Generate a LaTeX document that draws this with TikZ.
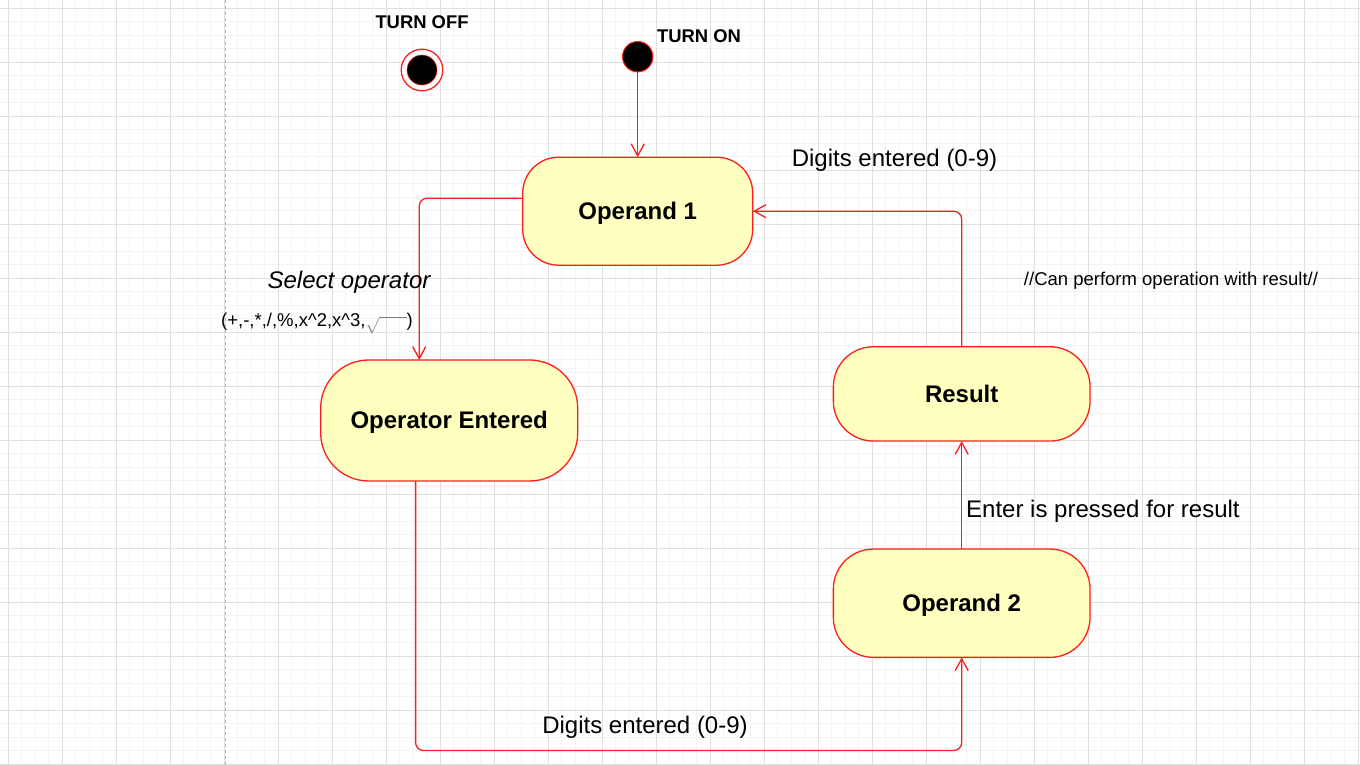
\documentclass[tikz,border=0pt]{standalone}
\usepackage{fontspec}
\setmainfont{Liberation Sans}
\usetikzlibrary{arrows.meta}
\definecolor{statered}{RGB}{255,30,30}
\definecolor{statefill}{RGB}{255,255,192}
\definecolor{minorg}{RGB}{244,244,244}
\definecolor{majorg}{RGB}{224,224,224}
\tikzset{
  minorgrid/.style={draw=minorg, line width=0.9pt},
  majorgrid/.style={draw=majorg, line width=0.9pt},
  statebox/.style={draw=statered, fill=statefill, line width=1.3pt, inner sep=0pt, outer sep=0pt,
     font=\fontsize{24pt}{28pt}\selectfont\bfseries, align=center, text height=21.7pt, text depth=5.1pt},
  trans/.style={draw=statered, line width=1.3pt, -{Straight Barb[length=12pt,width=13pt,line width=1.3pt]}},
  lbl/.style={inner sep=0pt, font=\fontsize{24pt}{28pt}\selectfont, text height=21.7pt, text depth=5.1pt},
  smalllbl/.style={inner sep=0pt, font=\fontsize{18.5pt}{22pt}\selectfont, text height=16.7pt, text depth=3.9pt},
  titlelbl/.style={inner sep=0pt, font=\fontsize{18.4pt}{22pt}\selectfont\bfseries, text height=16.7pt, text depth=3.9pt},
}
\begin{document}
\begin{tikzpicture}[x=1pt,y=-1pt]
\useasboundingbox (0,0) rectangle (1360,765);
\fill[white] (0,0) rectangle (1360,765);
% grid
\foreach \i in {0,...,101} { \draw[minorgrid] ({-5.2+13.5*\i},0) -- ++(0,765); }
\foreach \j in {0,...,57} { \draw[minorgrid] (0,{-5.2+13.5*\j}) -- ++(1360,0); }
\foreach \i in {0,...,25} { \draw[majorgrid] ({8.3+54*\i},0) -- ++(0,765); }
\foreach \j in {0,...,14} { \draw[majorgrid] (0,{8.3+54*\j}) -- ++(1360,0); }
\draw[draw={rgb,255:red,180;green,180;blue,180}, line width=0.9pt, dash pattern=on 3pt off 3pt] (225.7,0) -- (225.7,765);

% final state (TURN OFF)
\node[circle, draw=statered, fill=white, line width=1.3pt, minimum size=41.6pt, inner sep=0pt] (off) at (422,70) {};
\node[circle, draw=statered, fill=black, line width=0.6pt, minimum size=30pt, inner sep=0pt] (offin) at (off.center) {};
\node[titlelbl] (offlbl) at (422,22) {TURN OFF};

% initial state (TURN ON)
\node[circle, draw=statered, fill=black, line width=1pt, minimum size=30.4pt, inner sep=0pt, outer sep=0pt] (init) at (637.7,56.7) {};
\node[titlelbl] (onlbl) at (699,36) {TURN ON};

% states
\node[statebox, minimum width=230pt, minimum height=108pt, rounded corners=36pt] (op1) at (637.7,211.2) {Operand 1};
\node[statebox, minimum width=257pt, minimum height=121pt, rounded corners=48pt] (ope) at (449.2,420.5) {Operator Entered};
\node[statebox, minimum width=256.7pt, minimum height=94.3pt, rounded corners=40pt] (res) at (961.7,393.9) {Result};
\node[statebox, minimum width=256.7pt, minimum height=108.3pt, rounded corners=40pt] (op2) at (961.7,603.2) {Operand 2};

% transitions
\draw[trans] (init) -- (op1);
\draw[trans, rounded corners=8pt] ([yshift=13pt]op1.west) -| ([xshift=-30pt]ope.north);
\coordinate (b1) at (415.6,750.5);
\coordinate (b2) at (961.7,750.5);
\draw[trans, rounded corners=8pt] ([xshift=-33.6pt]ope.south) -- (b1) -- (b2) -- (op2.south);
\draw[trans] (op2.north) -- (res.south);
\draw[trans, rounded corners=8pt] (res.north) |- (op1.east);

% labels
\node[lbl] (l1) at (894.5,158) {Digits entered (0-9)};
\node[lbl, font=\fontsize{24pt}{28pt}\selectfont\itshape] (l2) at (349,280) {Select operator};
\node[smalllbl, anchor=west] (l3) at (221,320) {(+,-,*,/,\%,x\^{}2,x\^{}3,\textcolor{gray}{$\sqrt{\hphantom{aaa}}$})};
\node[smalllbl] (l4) at (1171,279) {//Can perform operation with result//};
\node[lbl, anchor=west] (l5) at (966,509) {Enter is pressed for result};
\node[lbl] (l6) at (645,725) {Digits entered (0-9)};
\end{tikzpicture}
\end{document}
